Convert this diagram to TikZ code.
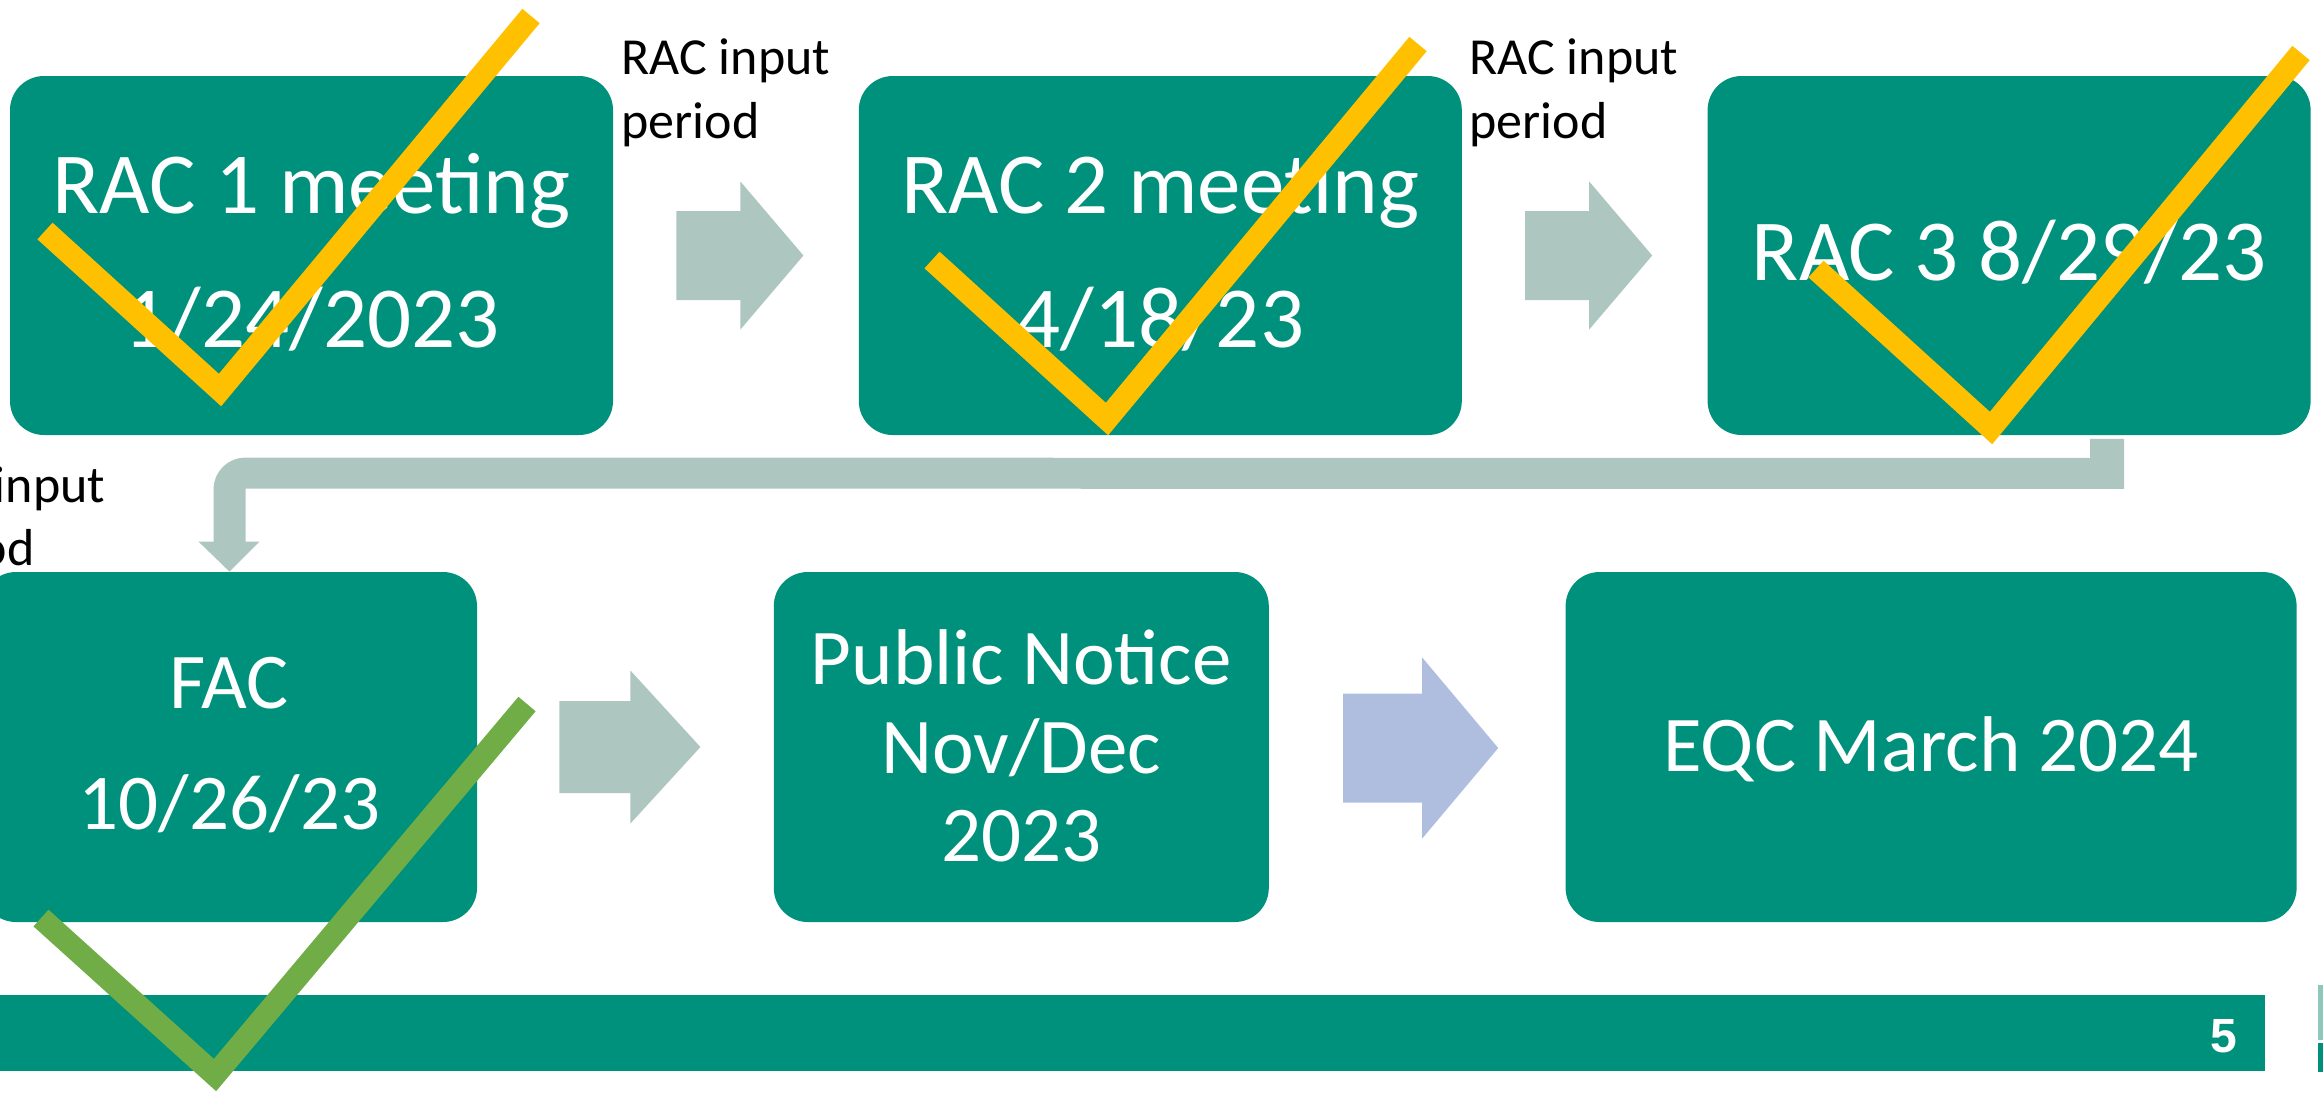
\documentclass[tikz,border=0pt]{standalone}
\usepackage{fontspec}
\setmainfont{Carlito}
\newfontfamily\slidenum{Liberation Sans}
\usetikzlibrary{calc,positioning}
\definecolor{dteal}{RGB}{0,145,124}
\definecolor{flowgrey}{RGB}{173,198,192}
\definecolor{flowblue}{RGB}{175,189,223}
\definecolor{tickyellow}{RGB}{255,192,0}
\definecolor{tickgreen}{RGB}{112,173,71}
\definecolor{logolight}{RGB}{140,200,188}
\tikzset{
  stagebox/.style={
    rectangle,
    rounded corners=17pt,
    fill=dteal,
    draw=none,
    inner sep=0pt},
  toprow/.style={stagebox, minimum width=301.5pt, minimum height=179.5pt},
  lowrow/.style={stagebox, minimum height=175pt},
  bigtext/.style={text=white, anchor=base, inner sep=0pt,
    font=\fontsize{43.5}{52}\selectfont},
  midtext/.style={text=white, anchor=base, inner sep=0pt,
    font=\fontsize{39.5}{47}\selectfont},
  note/.style={anchor=base west, inner sep=0pt,
    font=\fontsize{26}{31}\selectfont},
  tickmark/.style={line width=11.25pt, line join=miter},
}

\begin{document}
\begin{tikzpicture}[x=0.5pt, y=-0.5pt]
\useasboundingbox (0,0) rectangle (2323,1100);
\clip (0,0) rectangle (2323,1100);

% top row
\node[toprow] (rac1) at (311.5,255.5) {};
\node[toprow, right=122.5pt of rac1] (rac2) {};
\node[toprow, right=122.5pt of rac2] (rac3) {};

\node[bigtext] (rac1a) at ($(rac1.center)+(0,-42.5)$) {RAC 1 meeting};
\node[bigtext] (rac1b) at ($(rac1.center)+(0,91.5)$) {1/24/2023};
\node[bigtext] (rac2a) at ($(rac2.center)+(0,-42.5)$) {RAC 2 meeting};
\node[bigtext] (rac2b) at ($(rac2.center)+(0,91.5)$) {4/18/23};
\node[bigtext] (rac3a) at ($(rac3.center)+(0,24.5)$) {RAC 3 8/29/23};

\foreach \b in {rac1,rac2}
  \fill[flowgrey] ($(\b.east)+(63,-44.5)$) -- ++(64,0) -- ++(0,-29.5)
    -- ++(63,74) -- ++(-63,74) -- ++(0,-29.5) -- ++(-64,0) -- cycle;

\node[note] (inp1) at (621,74) {RAC input};
\node[note] (per1) at (621,138) {period};
\node[note] (inp2) at (1469,74) {RAC input};
\node[note] (per2) at (1469,138) {period};
\node[note] (inp3) at (-104,502) {RAC input};
\node[note] (per3) at (-104,565) {period};

% bottom row
\node[lowrow, minimum width=247.5pt] (fac) at (229.5,747) {};
\node[lowrow, minimum width=247.5pt, right=148pt of fac] (notice) {};
\node[lowrow, minimum width=365.5pt, right=148pt of notice] (eqc) {};

\node[midtext] (faca) at ($(fac.center)+(0,-39)$) {FAC};
\node[midtext] (facb) at ($(fac.center)+(0,82)$) {10/26/23};
\node[midtext] (nota) at ($(notice.center)+(0,-63)$) {Public Notice};
\node[midtext] (notb) at ($(notice.center)+(0,26)$) {Nov/Dec};
\node[midtext] (notc) at ($(notice.center)+(0,114)$) {2023};
\node[midtext] (eqca) at ($(eqc.center)+(0,24)$) {EQC March 2024};

% elbow from RAC 3 down to FAC
\fill[flowgrey] ($(rac3.south)+(81,3.5)$) -- ++(34,0) -- ++(0,50)
  -- ($(fac.north)+(16,-83)$) -- ++(0,53) -- ++(14,0) -- (fac.north)
  -- ++(-31,-30) -- ++(15,0) [rounded corners=16pt] -- ++(0,-84)
  [sharp corners] -- ($(rac3.south)+(81,22.5)$) -- cycle;

\fill[flowgrey] ($(fac.east)+(82,-46)$) -- ++(71,0) -- ++(0,-30.5)
  -- ++(70,76.5) -- ++(-70,76.5) -- ++(0,-30.5) -- ++(-71,0) -- cycle;
\fill[flowblue] ($(notice.east)+(74,-53.5)$) -- ++(79,0) -- ++(0,-36)
  -- ++(76,90.5) -- ++(-76,90.5) -- ++(0,-36) -- ++(-79,0) -- cycle;

% footer
\fill[dteal] (0,995) rectangle (2265,1071);
\node[text=white, inner sep=0pt, anchor=base,
  font=\slidenum\bfseries\fontsize{24}{28}\selectfont] (pagenum) at (2224,1052) {5};
\fill[logolight] (2318,985) rectangle (2323,1040);
\fill[dteal] (2318,1043) rectangle (2323,1072);

% ticks
\draw[tickmark, tickyellow] (45,231) -- (220,390) -- (531,16);
\draw[tickmark, tickyellow] (932,260) -- (1107,419) -- (1418,44);
\draw[tickmark, tickyellow] (1816,269) -- (1991,428) -- (2301,53);
\draw[tickmark, tickgreen] (41,918) -- (215,1075) -- (527,704);

\end{tikzpicture}
\end{document}
